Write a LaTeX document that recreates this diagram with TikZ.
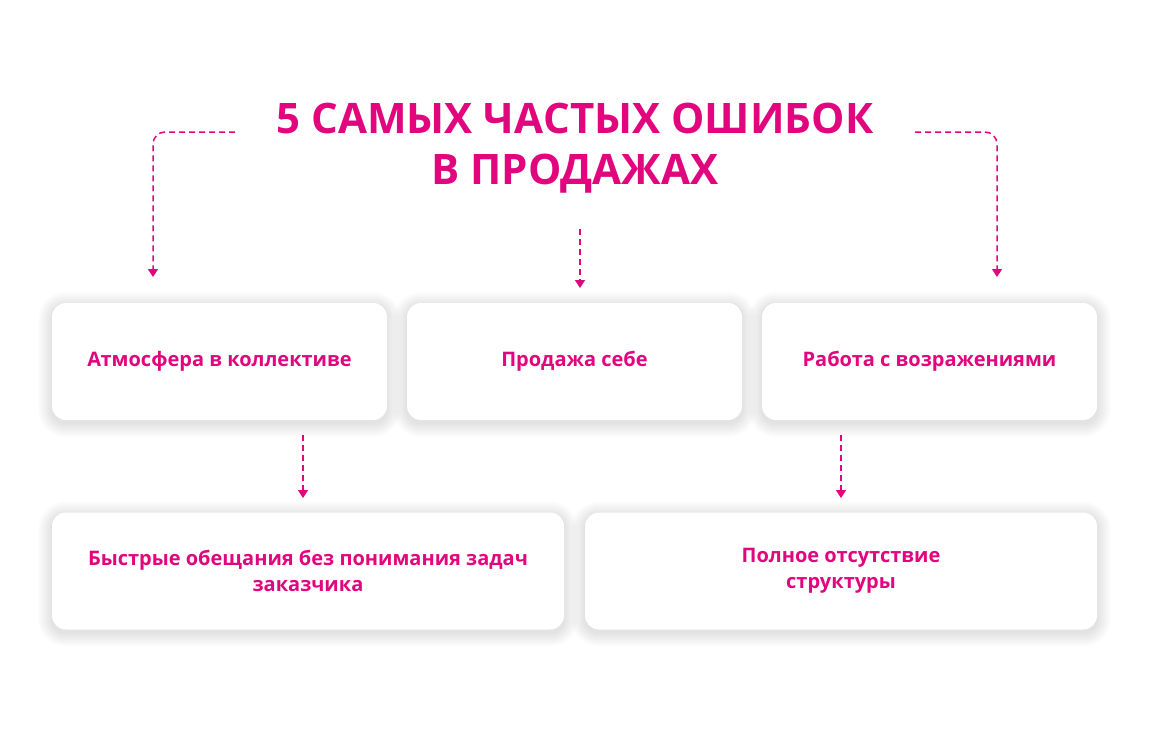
\documentclass[tikz,border=0pt]{standalone}
\usepackage{fontspec}
\setmainfont{Open Sans}
\usetikzlibrary{arrows.meta,backgrounds}
\definecolor{errpink}{HTML}{E1067E}
\begin{document}
\begin{tikzpicture}[x=1pt, y=1pt,
    card/.style={fill=white, rounded corners=14pt, minimum height=117pt, align=center,
      inner sep=0pt, text=errpink, font=\bfseries\fontsize{20}{26}\selectfont},
    link/.style={errpink, line width=1.5pt, dash pattern=on 6pt off 4pt,
      -{Triangle[width=10pt,length=8pt]}}]
  % Canvas (y grows downwards, so all y values are negative)
  \useasboundingbox (0,0) rectangle (1150,-740);

  % Title
  \node[anchor=base, align=center, text=errpink, font=\bfseries\fontsize{42}{51}\selectfont]
    (title) at (575,-184) {5 САМЫХ ЧАСТЫХ ОШИБОК\\В ПРОДАЖАХ};

  % First row of cards
  \node[card, minimum width=335pt] (atmo) at (219.5,-361.5) {Атмосфера в коллективе};
  \node[card, minimum width=335pt] (self) at (574.5,-361.5) {Продажа себе};
  \node[card, minimum width=335pt] (obj)  at (929.5,-361.5) {Работа с возражениями};

  % Second row of cards
  \node[card, minimum width=512pt] (fast)   at (308,-571) {Быстрые обещания без понимания задач\\заказчика};
  \node[card, minimum width=512pt] (struct) at (841,-571) {Полное отсутствие\\структуры};

  % White page and a soft shadow round every card
  \begin{pgfonlayer}{background}
    \fill[white] (0,0) rectangle (1150,-740);
    \foreach \card in {atmo,self,obj,fast,struct} {
      \foreach \k in {1,...,14} {
        \pgfmathsetmacro\Round{14+\k}
        \fill[black, opacity=0.0065, rounded corners=\Round pt]
          ([shift={(-\k,-\k-3)}]\card.south west) rectangle ([shift={(\k,\k-3)}]\card.north east);
      }
    }
  \end{pgfonlayer}

  % Ends of the connectors
  \coordinate (tleft)  at (235,-132);
  \coordinate (tright) at (915,-132);
  \coordinate (tmid)   at (580,-229);
  \coordinate (aleft)  at (153,-277);
  \coordinate (aright) at (997,-277);
  \coordinate (amid)   at (580,-288);
  \coordinate (atmoout) at (303,-435);
  \coordinate (objout)  at (841,-435);
  \coordinate (fastin)   at (303,-498);
  \coordinate (structin) at (841,-498);

  % Connectors
  \draw[link, rounded corners=12pt] (tleft) -| (aleft);
  \draw[link, rounded corners=12pt] (tright) -| (aright);
  \draw[link] (tmid) -- (amid);
  \draw[link] (atmoout) -- (fastin);
  \draw[link] (objout) -- (structin);
\end{tikzpicture}
\end{document}
